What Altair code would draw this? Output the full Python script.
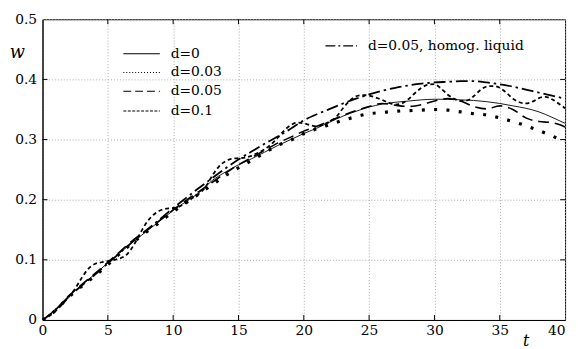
import altair as alt
import pandas as pd

# ---------------- data ----------------
t_main = [0, 1, 2, 3, 4, 5, 6, 7, 8, 9, 10, 11, 12, 13, 14, 15, 16, 17, 18, 19, 20,
          21, 22, 23, 24, 25, 26, 27, 28, 29, 30, 31, 32, 33, 34, 35, 36, 37, 38, 39, 40]

w_d0 = [0, 0.018, 0.04, 0.058, 0.076, 0.095, 0.113, 0.131, 0.148, 0.165,
        0.182, 0.197, 0.212, 0.232, 0.246, 0.258, 0.268, 0.279, 0.29, 0.3,
        0.31, 0.319, 0.329, 0.339, 0.347, 0.354, 0.359, 0.362, 0.364, 0.366,
        0.367, 0.367, 0.366, 0.365, 0.363, 0.36, 0.356, 0.352, 0.346, 0.337, 0.327]

w_d003 = [0, 0.016, 0.038, 0.056, 0.073, 0.092, 0.112, 0.13, 0.147, 0.163,
          0.18, 0.195, 0.21, 0.225, 0.24, 0.253, 0.265, 0.278, 0.29, 0.299,
          0.31, 0.318, 0.325, 0.332, 0.338, 0.343, 0.345, 0.347, 0.348, 0.349,
          0.35, 0.349, 0.346, 0.343, 0.341, 0.336, 0.33, 0.323, 0.315, 0.306, 0.297]

w_d005 = [0, 0.017, 0.04, 0.059, 0.077, 0.096, 0.115, 0.134, 0.15, 0.166,
          0.183, 0.199, 0.214, 0.229, 0.244, 0.258, 0.27, 0.282, 0.294, 0.304,
          0.314, 0.322, 0.331, 0.34, 0.348, 0.355, 0.36, 0.357, 0.355, 0.358,
          0.364, 0.368, 0.364, 0.355, 0.351, 0.356, 0.35, 0.336, 0.33, 0.328, 0.321]

w_homog = [0, 0.017, 0.038, 0.057, 0.075, 0.094, 0.113, 0.132, 0.15, 0.168,
           0.186, 0.203, 0.22, 0.236, 0.252, 0.267, 0.28, 0.293, 0.305, 0.318,
           0.332, 0.342, 0.351, 0.36, 0.368, 0.375, 0.381, 0.386, 0.39, 0.393,
           0.395, 0.396, 0.397, 0.397, 0.395, 0.392, 0.388, 0.383, 0.378, 0.373, 0.368]

t_fine = [0, 0.5, 1, 1.5, 2, 2.5, 3, 3.5, 4, 4.5, 5, 5.5, 6, 6.5, 7, 7.5, 8, 8.5, 9, 9.5,
          10, 10.5, 11, 11.5, 12, 12.5, 13, 13.5, 14, 14.5, 15, 15.5, 16, 16.5, 17, 17.5,
          18, 18.5, 19, 19.5, 20, 20.5, 21, 21.5, 22, 22.5, 23, 23.5, 24, 24.5, 25, 25.5,
          26, 26.5, 27, 27.5, 28, 28.5, 29, 29.5, 30, 30.5, 31, 31.5, 32, 32.5, 33, 33.5,
          34, 34.5, 35, 35.5, 36, 36.5, 37, 37.5, 38, 38.5, 39, 39.5, 40]

w_d01 = [0, 0.006, 0.015, 0.026, 0.038, 0.052, 0.07, 0.085, 0.093, 0.096,
         0.098, 0.1, 0.103, 0.11, 0.125, 0.145, 0.163, 0.175, 0.182, 0.185,
         0.186, 0.189, 0.195, 0.203, 0.21, 0.222, 0.24, 0.255, 0.264, 0.268,
         0.269, 0.27, 0.273, 0.278, 0.284, 0.292, 0.303, 0.315, 0.324, 0.328,
         0.327, 0.324, 0.322, 0.325, 0.33, 0.338, 0.352, 0.364, 0.372, 0.374,
         0.373, 0.37, 0.366, 0.361, 0.358, 0.36, 0.367, 0.377, 0.386, 0.391,
         0.392, 0.385, 0.375, 0.368, 0.364, 0.365, 0.372, 0.382, 0.388, 0.389,
         0.386, 0.378, 0.368, 0.362, 0.36, 0.363, 0.369, 0.371, 0.367, 0.36, 0.352]

x_ticks = [0, 5, 10, 15, 20, 25, 30, 35, 40]
y_ticks = [0, 0.1, 0.2, 0.3, 0.4, 0.5]
x_inner_ticks = [5, 10, 15, 20, 25, 30, 35]
y_inner_ticks = [0.1, 0.2, 0.3, 0.4]

legend_labels = ["d=0", "d=0.03", "d=0.05", "d=0.1"]
homog_label = "d=0.05, homog. liquid"

# ---------------- layout / style ----------------
W, H = 530, 305
SERIF = "DejaVu Serif"
TICK_FS = 14
LEG_FS = 14

xscale = alt.Scale(domain=[0, 40], nice=False, zero=False)
yscale = alt.Scale(domain=[0, 0.5], nice=False, zero=False)

x_axis = alt.Axis(values=x_ticks, title="t", titleFont=SERIF, titleFontStyle="italic",
                  titleFontWeight="normal", titleFontSize=16, titleX=490, titleY=21,
                  titleAlign="center", titleBaseline="middle", titleColor="black",
                  labelFont=SERIF, labelFontSize=TICK_FS, labelColor="black",
                  labelPadding=4, tickSize=0, domainColor="black", domainWidth=1,
                  labelAlign=alt.expr("datum.value == 40 ? 'right' : 'center'"),
                  grid=True, gridColor="#a8a8a8", gridDash=[1, 2], gridWidth=1)
y_axis = alt.Axis(values=y_ticks, format="~g", title="w", titleFont=SERIF,
                  titleFontStyle="italic", titleFontWeight="normal", titleFontSize=18,
                  titleAngle=0, titleX=-26, titleY=34, titleAlign="center",
                  titleBaseline="middle", titleColor="black",
                  labelFont=SERIF, labelFontSize=TICK_FS, labelColor="black",
                  labelPadding=6, tickSize=0, domainColor="black", domainWidth=1,
                  grid=True, gridColor="#a8a8a8", gridDash=[1, 2], gridWidth=1)


def series(tv, wv, name, **mark):
    df = pd.DataFrame({"t": tv, "w": wv, "series": name})
    return alt.Chart(df).mark_line(color="black", interpolate="monotone", clip=True, **mark).encode(
        x=alt.X("t:Q", scale=xscale, axis=x_axis),
        y=alt.Y("w:Q", scale=yscale, axis=y_axis),
    )


l_d0 = series(t_main, w_d0, "d=0", strokeWidth=0.9)
l_d003 = series(t_main, w_d003, "d=0.03", strokeWidth=3.2, strokeDash=[3, 9.5])
l_d005 = series(t_main, w_d005, "d=0.05", strokeWidth=1.6, strokeDash=[11, 6])
l_d01 = series(t_fine, w_d01, "d=0.1", strokeWidth=1.8, strokeDash=[4, 3])
l_homog = series(t_main, w_homog, "homog", strokeWidth=1.8, strokeDash=[12, 4, 2.5, 4])

# inward ticks on all four sides
xt = alt.Chart(pd.DataFrame({"t": x_inner_ticks}))
yt = alt.Chart(pd.DataFrame({"w": y_inner_ticks}))
ticks = [
    xt.mark_rule(color="black", strokeWidth=1).encode(x=alt.X("t:Q", scale=xscale), y=alt.value(H), y2=alt.value(H - 5)),
    xt.mark_rule(color="black", strokeWidth=1).encode(x=alt.X("t:Q", scale=xscale), y=alt.value(0), y2=alt.value(5)),
    yt.mark_rule(color="black", strokeWidth=1).encode(y=alt.Y("w:Q", scale=yscale), x=alt.value(0), x2=alt.value(5)),
    yt.mark_rule(color="black", strokeWidth=1).encode(y=alt.Y("w:Q", scale=yscale), x=alt.value(W - 5), x2=alt.value(W)),
]

# legend (drawn as marks)
leg_rows = [35, 54, 73, 93]
leg_dash = [None, [1, 2], [8, 4], [3, 1.5]]
legend_layers = []
for lab, ly, dash in zip(legend_labels, leg_rows, leg_dash):
    d = alt.Chart(pd.DataFrame({"label": [lab]}))
    kw = {"strokeDash": dash} if dash else {}
    legend_layers.append(d.mark_rule(color="black", strokeWidth=1.1, **kw).encode(
        x=alt.value(82), x2=alt.value(119), y=alt.value(ly)))
    legend_layers.append(d.mark_text(align="left", baseline="middle", font=SERIF, fontSize=LEG_FS,
                                     color="black").encode(x=alt.value(130), y=alt.value(ly), text="label:N"))
dh = alt.Chart(pd.DataFrame({"label": [homog_label]}))
legend_layers.append(dh.mark_rule(color="black", strokeWidth=1.2, strokeDash=[10, 3, 2, 3]).encode(
    x=alt.value(287), x2=alt.value(319), y=alt.value(27)))
legend_layers.append(dh.mark_text(align="left", baseline="middle", font=SERIF, fontSize=LEG_FS,
                                  color="black").encode(x=alt.value(330), y=alt.value(27), text="label:N"))

chart = alt.layer(l_d0, l_d003, l_d005, l_d01, l_homog, *ticks, *legend_layers).properties(
    width=W, height=H,
    padding={"left": 35, "top": 9, "right": 5, "bottom": 27},
    autosize=alt.AutoSizeParams(type="none"),
    background="white",
).configure_view(stroke="black", strokeWidth=1)

chart.save("out.html", embed_options={"renderer": "svg", "actions": False})
